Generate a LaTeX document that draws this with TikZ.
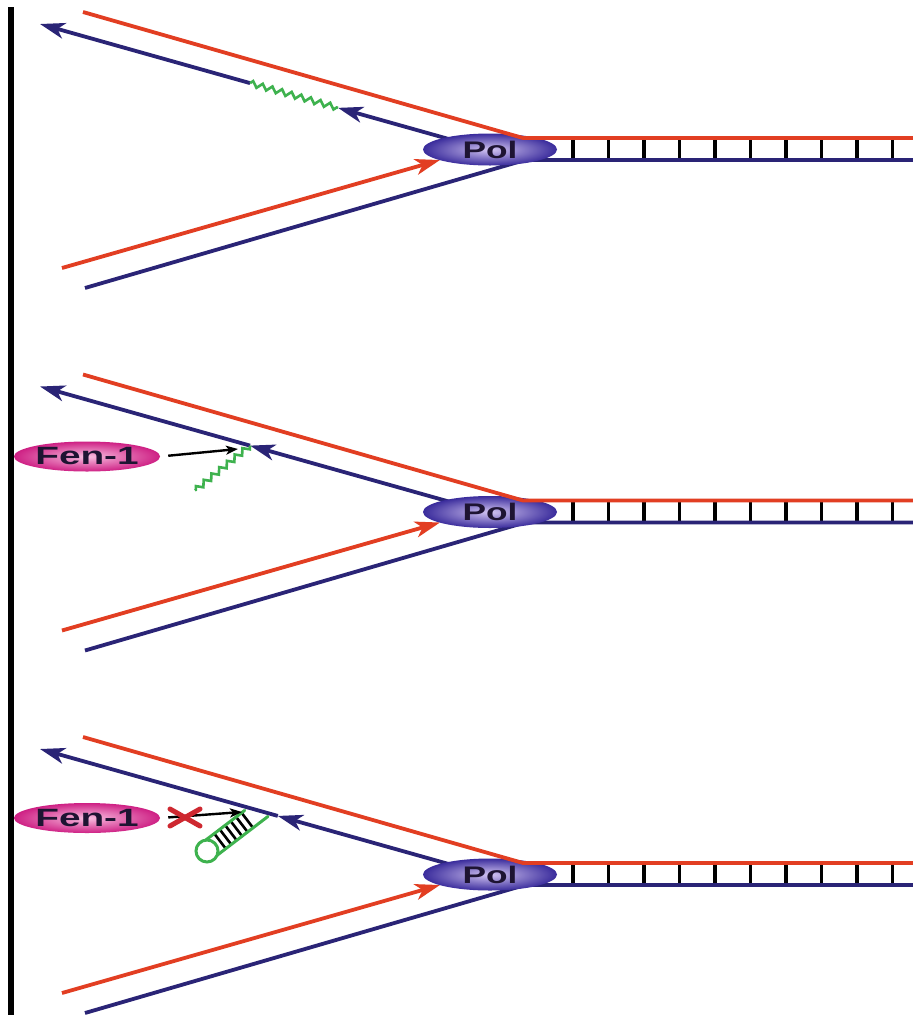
\documentclass[tikz,border=0pt]{standalone}
\usepackage{fontspec}
\setsansfont{Liberation Sans}
\usetikzlibrary{arrows.meta,shapes.geometric,decorations.pathmorphing,calc}

\definecolor{strandred}{RGB}{226,62,34}
\definecolor{strandblue}{RGB}{42,36,118}
\definecolor{primergreen}{RGB}{62,178,78}
\definecolor{polouter}{RGB}{58,44,156}
\definecolor{polinner}{RGB}{210,196,242}
\definecolor{fenouter}{RGB}{206,32,132}
\definecolor{feninner}{RGB}{248,190,224}
\definecolor{blockred}{RGB}{206,40,48}
\definecolor{labelink}{RGB}{30,20,50}

\tikzset{
  redstrand/.style={draw=strandred, line width=3.8pt, line join=round},
  bluestrand/.style={draw=strandblue, line width=3.8pt, line join=round},
  tipped/.style={-{Stealth[length=25pt,width=16pt,inset=7pt]}},
  rung/.style={draw=black, line width=3.6pt},
  hairrung/.style={draw=black, line width=2.6pt},
  primer/.style={draw=primergreen, line width=2.6pt, decorate,
    decoration={zigzag, segment length=10pt, amplitude=2.8pt}},
  stemline/.style={draw=primergreen, line width=3pt, line cap=round},
  polymerase/.style={ellipse, minimum width=134pt, minimum height=32pt,
    inner sep=0pt, shade, inner color=polinner, outer color=polouter,
    text=labelink, font=\sffamily\bfseries\fontsize{24}{26}\selectfont},
  nuclease/.style={ellipse, minimum width=136pt, minimum height=30pt,
    inner sep=0pt, shade, inner color=feninner, outer color=fenouter,
    text=labelink, font=\sffamily\bfseries\fontsize{25}{27}\selectfont},
  probe/.style={draw=black, line width=2.4pt, shorten <=8pt,
    -{Stealth[length=12pt,width=9pt,inset=3pt]}},
  blockmark/.style={draw=blockred, line width=5pt, line cap=round},
}

% One replication fork: template strands, leading strand, duplex and the
% panel-specific lagging-strand content (#3), drawn before the polymerase.
\newcommand\forkpanel[3]{%
  \begin{scope}[shift={(0,#2)}]
    \coordinate (#1-ru) at (83,12);
    \coordinate (#1-rf) at (523,138);
    \coordinate (#1-re) at (913,138);
    \coordinate (#1-bl) at (85,288);
    \coordinate (#1-bf) at (525,160);
    \coordinate (#1-be) at (913,160);
    \coordinate (#1-rl) at (62,268);
    \coordinate (#1-rt) at (440,160);
    \coordinate (#1-tipL) at (40,24);
    \coordinate (#1-pp) at (470,145);
    \foreach \k in {0,...,9}
      \draw[rung] ($(#1-rf)+(50+35.5*\k,0)$) -- ($(#1-bf)+(48+35.5*\k,0)$);
    \draw[bluestrand] (#1-bl) -- (#1-bf) -- (#1-be);
    \draw[redstrand,tipped] (#1-rl) -- (#1-rt);
    #3
    \node[polymerase] (#1-pol) at (490,149.5) {\scalebox{1.47}[1]{Pol}};
    \draw[redstrand] (#1-ru) -- (#1-rf) -- (#1-re);
  \end{scope}}

\begin{document}
\begin{tikzpicture}[x=1pt,y=-1pt]
  \useasboundingbox (0,0) rectangle (913,1015);
  \fill[white] (0,0) rectangle (913,1015);

  % vertical rule on the left
  \fill[black] (8,7) rectangle (14,1015);

  % primer still in place
  \forkpanel{a}{0}{%
    \coordinate (a-g1) at ($(a-tipL)!0.4884!(a-pp)$);
    \coordinate (a-g2) at ($(a-tipL)!0.693!(a-pp)$);
    \draw[bluestrand,tipped] (a-g1) -- (a-tipL);
    \draw[primer] (a-g1) -- (a-g2);
    \draw[bluestrand,tipped] (a-pp) -- (a-g2);
  }

  % displaced flap cut by Fen-1
  \forkpanel{b}{362.5}{%
    \coordinate (b-g1) at ($(b-tipL)!0.4884!(b-pp)$);
    \coordinate (b-flap) at (195,128);
    \coordinate (b-target) at (238,86.5);
    \draw[bluestrand,tipped] (b-g1) -- (b-tipL);
    \draw[bluestrand,tipped] (b-pp) -- (b-g1);
    \draw[primer] (b-g1) -- (b-flap);
    \node[nuclease] (b-fen) at (87,94) {\scalebox{1.55}[1]{Fen-1}};
    \draw[probe] (b-fen.east) -- (b-target);
  }

  % flap folded into a hairpin, Fen-1 blocked
  \forkpanel{c}{725}{%
    \coordinate (c-h) at ($(c-tipL)!0.553!(c-pp)$);
    \draw[bluestrand,tipped] (c-h) -- (c-tipL);
    \coordinate (c-loop) at (207,126);
    \coordinate (c-s1a) at (205.7,115.1);
    \coordinate (c-s1b) at (244.7,85.4);
    \coordinate (c-s2a) at (217.2,130.2);
    \coordinate (c-s2b) at (268,91.4);
    \foreach \t in {0.22,0.36,0.5,0.64,0.78,0.92}
      \draw[hairrung] ($(c-s1a)!\t!(c-s1b)$) -- ++(11.5,15.1);
    \draw[stemline] (c-s1a) -- (c-s1b);
    \draw[stemline] (c-s2a) -- (c-s2b);
    \draw[draw=primergreen, line width=3pt] (c-loop) circle[radius=11];
    \draw[bluestrand,tipped] (c-pp) -- (c-h);
    \node[nuclease] (c-fen) at (87,93) {\scalebox{1.55}[1]{Fen-1}};
    \coordinate (c-target) at (242,87);
    \draw[probe] (c-fen.east) -- (c-target);
    \coordinate (c-x1) at (170,84);
    \coordinate (c-x2) at (200,101);
    \coordinate (c-x3) at (170,101);
    \coordinate (c-x4) at (200,84);
    \draw[blockmark] (c-x1) -- (c-x2);
    \draw[blockmark] (c-x3) -- (c-x4);
  }
\end{tikzpicture}
\end{document}
